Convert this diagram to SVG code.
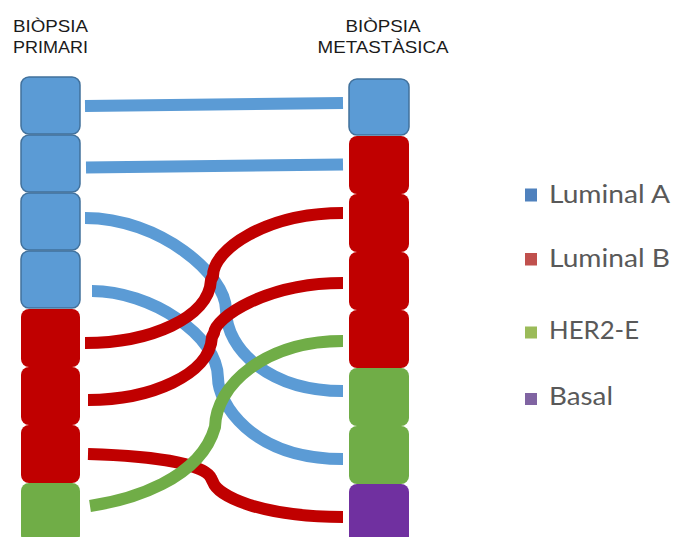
<svg xmlns="http://www.w3.org/2000/svg" width="673" height="537" viewBox="0 0 673 537">
<style>
.title{font-family:"Liberation Sans",Arial,sans-serif;font-size:17px;fill:#1a1a1a;text-anchor:middle}
.leg{font-family:Lato,"Open Sans",sans-serif;font-size:25px;fill:#595959}
.lumA{fill:#5B9BD5;stroke:#41719C;stroke-width:1.5}
.lumB{fill:#C00000}
.her2{fill:#70AD47}
.basal{fill:#7030A0}
.c{fill:none;stroke-width:12;stroke-linecap:butt;stroke-linejoin:round}
.cb{stroke:#5B9BD5}
.cr{stroke:#C00000}
.cg{stroke:#70AD47}
</style>
<rect width="673" height="537" fill="#ffffff"/>
<g id="titles">
<text class="title" x="50.5" y="32" textLength="75" lengthAdjust="spacingAndGlyphs">BIÒPSIA</text>
<text class="title" x="50.5" y="53" textLength="75" lengthAdjust="spacingAndGlyphs">PRIMARI</text>
<text class="title" x="383" y="32" textLength="75" lengthAdjust="spacingAndGlyphs">BIÒPSIA</text>
<text class="title" x="383" y="53" textLength="131" lengthAdjust="spacingAndGlyphs">METASTÀSICA</text>
</g>
<g id="primary">
<g id="p1"><rect class="lumA" x="21" y="77" width="59" height="57" rx="8"/></g>
<g id="p2"><rect class="lumA" x="21" y="135" width="59" height="57" rx="8"/></g>
<g id="p3"><rect class="lumA" x="21" y="193" width="59" height="57" rx="8"/></g>
<g id="p4"><rect class="lumA" x="21" y="251" width="59" height="57" rx="8"/></g>
<g id="p5"><rect class="lumB" x="21" y="309" width="59" height="58" rx="8"/></g>
<g id="p6"><rect class="lumB" x="21" y="367" width="59" height="58" rx="8"/></g>
<g id="p7"><rect class="lumB" x="21" y="425" width="59" height="58" rx="8"/></g>
<g id="p8"><rect class="her2" x="21" y="483" width="59" height="60" rx="8"/></g>
</g>
<g id="metastatic">
<g id="m1"><rect class="lumA" x="349" y="79" width="60" height="56" rx="8"/></g>
<g id="m2"><rect class="lumB" x="349" y="136" width="60" height="58" rx="8"/></g>
<g id="m3"><rect class="lumB" x="349" y="194" width="60" height="58" rx="8"/></g>
<g id="m4"><rect class="lumB" x="349" y="252" width="60" height="58" rx="8"/></g>
<g id="m5"><rect class="lumB" x="349" y="310" width="60" height="58" rx="8"/></g>
<g id="m6"><rect class="her2" x="349" y="368" width="60" height="58" rx="8"/></g>
<g id="m7"><rect class="her2" x="349" y="426" width="60" height="58" rx="8"/></g>
<g id="m8"><rect class="basal" x="349" y="484" width="60" height="60" rx="8"/></g>
</g>
<g id="connectors">
<path class="c cb" d="M85,106 L343,103"/>
<path class="c cb" d="M86,167.5 L343,164.5"/>
<path class="c cb" d="M85,218 C160,218 226,275 226,310 C226,350 270,391 343,391"/>
<path class="c cb" d="M92,291 C150,291 218,335 218,378 C218,402 250,459 343,459"/>
<path class="c cr" d="M85,343 C150,343 209,318 211,280 L213,276 C213,250 265,213 343,213"/>
<path class="c cr" d="M88,400 C150,400 210,375 212,337 L214,333 C215,318 265,283 343,283"/>
<path class="c cr" d="M88,454 C160,456 205,465 211,478 L213,482 C218,496 260,517 343,517"/>
<path class="c cg" d="M90,506 C130,500 200,480 215,427 C216,385 265,341 343,341"/>
</g>
<g id="legend">
<g id="leg-lumA"><rect x="525" y="188.5" width="12" height="13" fill="#4F81BD"/><text class="leg" x="549" y="203" textLength="121" lengthAdjust="spacingAndGlyphs">Luminal A</text></g>
<g id="leg-lumB"><rect x="525" y="253" width="12" height="12.5" fill="#C0504D"/><text class="leg" x="549" y="267" textLength="121" lengthAdjust="spacingAndGlyphs">Luminal B</text></g>
<g id="leg-her2"><rect x="525" y="326.5" width="12" height="12" fill="#9BBB59"/><text class="leg" x="549" y="338.5" textLength="90" lengthAdjust="spacingAndGlyphs">HER2-E</text></g>
<g id="leg-basal"><rect x="525" y="393" width="12" height="12" fill="#8064A2"/><text class="leg" x="549" y="405" textLength="64" lengthAdjust="spacingAndGlyphs">Basal</text></g>
</g>
</svg>
